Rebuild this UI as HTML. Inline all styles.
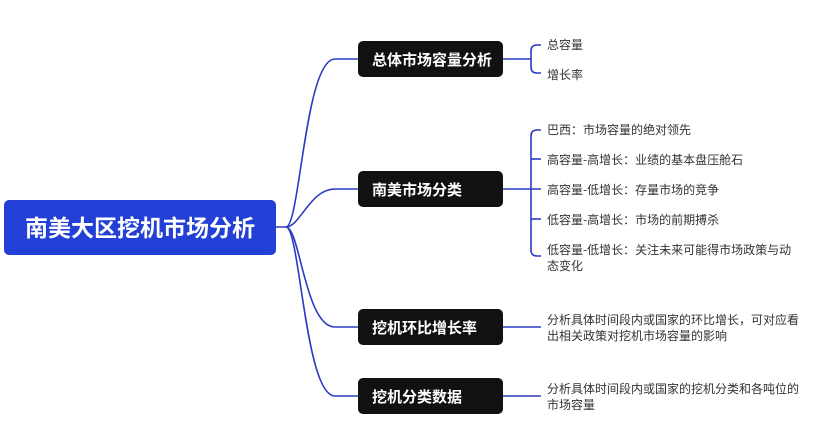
<!DOCTYPE html>
<html><head><meta charset="utf-8"><style>
body{margin:0;background:#fff;width:829px;height:440px;overflow:hidden;font-family:"Liberation Sans","Noto Sans CJK SC",sans-serif}
</style></head><body>
<svg width="829" height="440" xmlns="http://www.w3.org/2000/svg" style="position:absolute;left:0;top:0">
<g fill="none" stroke="#2b3bc4" stroke-width="1.6">
<path d="M276 227 H286 C300 227 305 59 335 59 H358"/>
<path d="M286 227 C300 227 310 189 335 189 H358"/>
<path d="M286 227 C300 227 305 327 335 327 H358"/>
<path d="M286 227 C300 227 305 396 335 396 H358"/>
<path d="M503 59 H531"/>
<path d="M541 45 H537 Q531 45 531 51 V67 Q531 73 537 73 H541"/>
<path d="M503 189 H541"/>
<path d="M541 130 H537 Q531 130 531 136 V250 Q531 256 537 256 H541"/>
<path d="M531 159 Q531 159 541 159"/>
<path d="M531 219 H541"/>
<path d="M503 327 H541"/>
<path d="M503 396 H541"/>
</g>
<rect x="4" y="200" width="272" height="55" rx="5" fill="#2340d6"/>
<text x="140" y="236" fill="#fff" font-size="23" font-weight="bold" text-anchor="middle" font-family="Noto Sans CJK SC,sans-serif">南美大区挖机市场分析</text>
<g fill="#111">
<rect x="358" y="41" width="145" height="36" rx="5"/>
<rect x="358" y="171" width="145" height="36" rx="5"/>
<rect x="358" y="309" width="145" height="36" rx="5"/>
<rect x="358" y="378" width="145" height="36" rx="5"/>
</g>
<g fill="#fff" font-size="15" font-weight="bold" font-family="Noto Sans CJK SC,sans-serif">
<text x="372" y="65">总体市场容量分析</text>
<text x="372" y="195">南美市场分类</text>
<text x="372" y="333">挖机环比增长率</text>
<text x="372" y="402">挖机分类数据</text>
</g>
<g fill="#333" font-size="12" font-family="Noto Sans CJK SC,sans-serif">
<text x="547" y="49">总容量</text>
<text x="547" y="79">增长率</text>
<text x="547" y="134">巴西：市场容量的绝对领先</text>
<text x="547" y="164">高容量-高增长：业绩的基本盘压舱石</text>
<text x="547" y="194">高容量-低增长：存量市场的竞争</text>
<text x="547" y="224">低容量-高增长：市场的前期搏杀</text>
<text x="547" y="254">低容量-低增长：关注未来可能得市场政策与动</text>
<text x="547" y="270">态变化</text>
<text x="547" y="324">分析具体时间段内或国家的环比增长，可对应看</text>
<text x="547" y="340">出相关政策对挖机市场容量的影响</text>
<text x="547" y="393">分析具体时间段内或国家的挖机分类和各吨位的</text>
<text x="547" y="409">市场容量</text>
</g>
</svg>
</body></html>
